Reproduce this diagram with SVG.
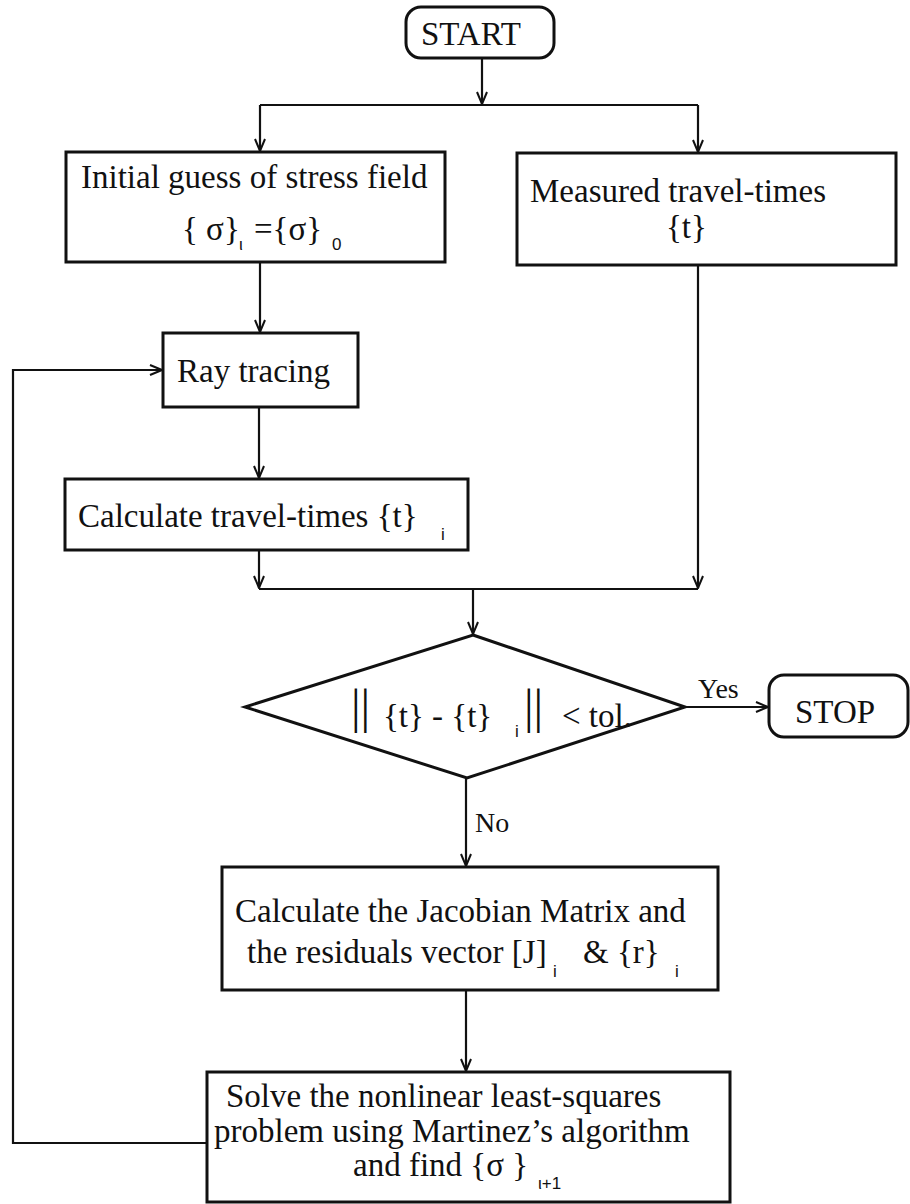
<svg xmlns="http://www.w3.org/2000/svg" width="910" height="1204" viewBox="0 0 910 1204">
<style>
.box{fill:#fff;stroke:#111;stroke-width:3}
.ln{fill:none;stroke:#111;stroke-width:2.2}
.t{font-family:"Liberation Serif","Times New Roman",serif;font-size:33px;fill:#111}
.lbl{font-family:"Liberation Serif","Times New Roman",serif;font-size:28px;fill:#111}
.sub{font-family:"Liberation Sans",Arial,sans-serif;font-size:17px;fill:#111}
.bar{font-family:"Liberation Serif","Times New Roman",serif;font-size:48px;fill:#111}
</style>
<defs>
<marker id="ah" viewBox="0 0 14 12" refX="13" refY="6" markerWidth="14" markerHeight="12" markerUnits="userSpaceOnUse" orient="auto">
<path d="M1,1 L13,6 L1,11" fill="none" stroke="#111" stroke-width="2"/>
</marker>
</defs>
<rect width="910" height="1204" fill="#fff"/>
<g id="connectors">
<line class="ln" x1="482" y1="58" x2="482" y2="104" marker-end="url(#ah)"/>
<line class="ln" x1="260" y1="105" x2="698" y2="105"/>
<line class="ln" x1="260" y1="105" x2="260" y2="151" marker-end="url(#ah)"/>
<line class="ln" x1="698" y1="105" x2="698" y2="152" marker-end="url(#ah)"/>
<line class="ln" x1="260" y1="262" x2="260" y2="332" marker-end="url(#ah)"/>
<line class="ln" x1="259" y1="407" x2="259" y2="478" marker-end="url(#ah)"/>
<line class="ln" x1="259" y1="550" x2="259" y2="588" marker-end="url(#ah)"/>
<line class="ln" x1="698" y1="265" x2="698" y2="588" marker-end="url(#ah)"/>
<line class="ln" x1="259" y1="589" x2="698" y2="589"/>
<line class="ln" x1="473" y1="589" x2="473" y2="634" marker-end="url(#ah)"/>
<line class="ln" x1="685" y1="707" x2="768" y2="707" marker-end="url(#ah)"/>
<line class="ln" x1="466" y1="778" x2="466" y2="866" marker-end="url(#ah)"/>
<line class="ln" x1="466" y1="990" x2="466" y2="1071" marker-end="url(#ah)"/>
<path class="ln" d="M207,1143 L13,1143 L13,370 L162,370" marker-end="url(#ah)"/>
<text class="lbl" x="698" y="698">Yes</text>
<text class="lbl" x="475" y="832">No</text>
</g>
<g id="start">
<rect class="box" x="406" y="7" width="148" height="51" rx="15"/>
<text class="t" x="421" y="45">START</text>
</g>
<g id="initial">
<rect class="box" x="66" y="152" width="379" height="110"/>
<text class="t" x="81" y="188">Initial guess of stress field</text>
<text class="t" x="182" y="240">{ σ}</text>
<text class="sub" x="239" y="250">ι</text>
<text class="t" x="254" y="240">={σ}</text>
<text class="sub" x="332" y="250">0</text>
</g>
<g id="measured">
<rect class="box" x="517" y="153" width="379" height="112"/>
<text class="t" x="530" y="202">Measured travel-times</text>
<text class="t" x="666" y="238">{t}</text>
</g>
<g id="raytracing">
<rect class="box" x="163" y="333" width="195" height="74"/>
<text class="t" x="177" y="382">Ray tracing</text>
</g>
<g id="calc">
<rect class="box" x="65" y="479" width="403" height="71"/>
<text class="t" x="78" y="527">Calculate travel-times {t}</text>
<text class="sub" x="441" y="540">i</text>
</g>
<g id="decision">
<polygon class="box" points="473,635 685,707 467,778 245,707"/>
<text class="bar" x="351" y="723">||</text>
<text class="t" x="383" y="727">{t} - {t}</text>
<text class="sub" x="515" y="737">i</text>
<text class="bar" x="524" y="723">||</text>
<text class="t" x="562" y="727">&lt; tol.</text>
</g>
<g id="stop">
<rect class="box" x="769" y="675" width="139" height="62" rx="15"/>
<text class="t" x="795" y="723">STOP</text>
</g>
<g id="jacobian">
<rect class="box" x="222" y="867" width="496" height="123"/>
<text class="t" x="235" y="922">Calculate the Jacobian Matrix and</text>
<text class="t" x="247" y="963">the residuals vector [J]</text>
<text class="sub" x="553" y="977">i</text>
<text class="t" x="583" y="963">&amp; {r}</text>
<text class="sub" x="675" y="977">i</text>
</g>
<g id="solve">
<rect class="box" x="207" y="1072" width="523" height="130"/>
<text class="t" x="226" y="1107">Solve the nonlinear least-squares</text>
<text class="t" x="214" y="1142">problem using Martinez’s algorithm</text>
<text class="t" x="353" y="1176">and find {σ }</text>
<text class="sub" x="538" y="1189">ι+1</text>
</g>
</svg>
